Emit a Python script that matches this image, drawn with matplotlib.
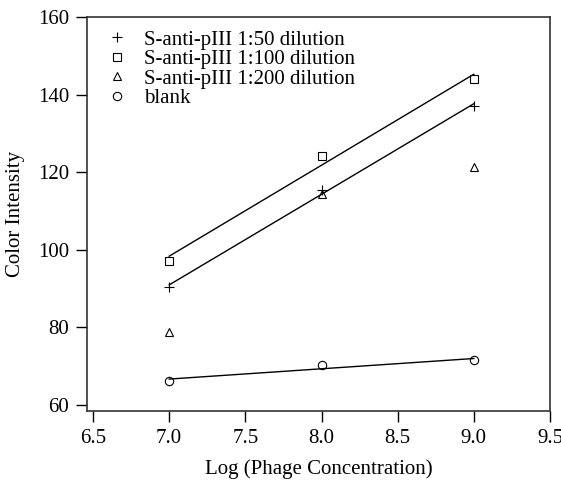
import numpy as np
import matplotlib
matplotlib.use("Agg")
import matplotlib.pyplot as plt
from matplotlib.lines import Line2D

# Data
log_conc = [7.0, 8.0, 9.0]
dil_50 = [90.4, 115.4, 137.1]
dil_100 = [97.1, 124.3, 144.0]
dil_200 = [78.8, 114.4, 121.3]
blank = [66.2, 70.3, 71.5]

labels = ["S-anti-pIII 1:50 dilution", "S-anti-pIII 1:100 dilution",
          "S-anti-pIII 1:200 dilution", "blank"]
x_ticks = [6.5, 7.0, 7.5, 8.0, 8.5, 9.0, 9.5]
y_ticks = [60, 80, 100, 120, 140, 160]

plt.rcParams['font.family'] = ['Liberation Serif', 'DejaVu Serif']
FS = 15

fig = plt.figure(figsize=(5.61, 4.83), dpi=100)
ax_w, ax_h = (550-87), (411-17)
ax = fig.add_axes([87/561, 1-411/483, ax_w/561, ax_h/483])

x = np.array(log_conc)
series = [(dil_50, '+', True, 7.5), (dil_100, 's', True, 6),
          (dil_200, '^', False, 5.5), (blank, 'o', True, 6)]
handles = []
for (vals, mk, fit, ms), lab in zip(series, labels):
    ax.plot(x, vals, linestyle='none', marker=mk, markersize=ms,
            markerfacecolor='none', markeredgecolor='black', markeredgewidth=0.8)
    if fit:
        p = np.polyfit(x, vals, 1)
        ax.plot(x, np.polyval(p, x), color='black', linewidth=1.0)
    handles.append(Line2D([], [], linestyle='none', marker=mk, markersize=ms,
                          markerfacecolor='none', markeredgecolor='black',
                          markeredgewidth=0.8, label=lab))

ax.set_xlim(6.5 - 6/152.3, 9.5)
ax.set_ylim(60 - 6/3.88, 160)
ax.set_xticks(x_ticks)
ax.set_xticklabels([f"{t:.1f}" for t in x_ticks])
ax.set_yticks(y_ticks)
ax.tick_params(axis='both', direction='out', length=8, width=1.0,
               labelsize=FS, colors='black', pad=5)
ax.tick_params(top=False, right=False)
for s in ax.spines.values():
    s.set_linewidth(1.2)
    s.set_color('#333333')

ax.set_xlabel("Log (Phage Concentration)", fontsize=FS, labelpad=8)
ax.set_ylabel("Color Intensity", fontsize=FS, labelpad=9)

ax.legend(handles=handles, loc='upper left', frameon=False, fontsize=FS,
          handlelength=1.0, handletextpad=0.8, labelspacing=0.0,
          borderaxespad=0.0, borderpad=0.0,
          bbox_to_anchor=(19.5/ax_w, 1 - 13/ax_h))

fig.savefig("out.png", dpi=100)
